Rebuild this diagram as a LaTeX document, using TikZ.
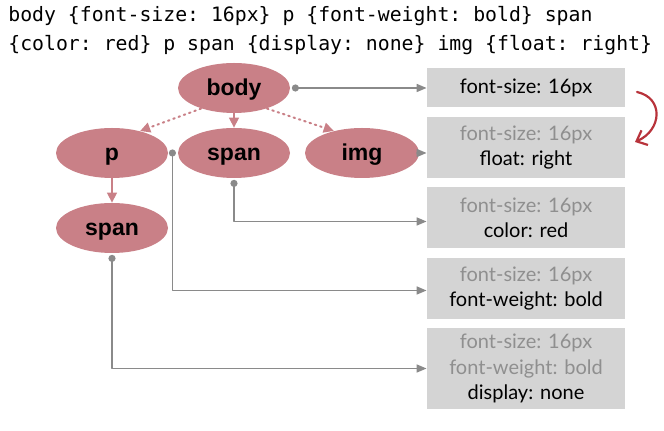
\documentclass[tikz,border=0pt]{standalone}
\usepackage{fontspec}
\setmainfont{Lato}
\setmonofont{DejaVu Sans Mono}
\newfontfamily\tagfont{Liberation Sans}
\usetikzlibrary{arrows.meta,shapes.geometric}
\definecolor{tagpink}{HTML}{C98087}
\definecolor{boxgray}{HTML}{D4D4D4}
\definecolor{linegray}{HTML}{8A8A8A}
\definecolor{oldtext}{HTML}{8F8F8F}
\definecolor{curvered}{HTML}{B8333B}
\tikzset{
  tag/.style={ellipse,fill=tagpink,minimum width=56pt,minimum height=25pt,inner sep=0pt,
    text height=7.5pt,text depth=0pt,
    font=\tagfont\fontsize{11.5}{13}\selectfont\bfseries},
  rulebox/.style={fill=boxgray,minimum width=99pt,inner sep=0pt,align=center,
    font=\fontsize{10}{12.3}\selectfont},
  link/.style={linegray,line width=0.8pt,-{Triangle[length=5pt,width=4pt]}},
  kid/.style={tagpink,line width=0.8pt,-{Triangle[length=5pt,width=5pt]}},
  dot/.style={fill=linegray}
}
\newcommand{\old}[1]{\textcolor{oldtext}{#1}}
\begin{document}
\begin{tikzpicture}[x=0.5pt,y=-0.5pt,line cap=round,line join=round]
  \useasboundingbox (0,0) rectangle (664,431);
  % css source
  \node[anchor=west,inner sep=0pt,font=\ttfamily\fontsize{9.9}{12}\selectfont] (codeA) at (8,16)
    {body \{font-size: 16px\} p \{font-weight: bold\} span};
  \node[anchor=west,inner sep=0pt,font=\ttfamily\fontsize{9.9}{12}\selectfont] (codeB) at (8,45)
    {\{color: red\} p span \{display: none\} img \{float: right\}};
  % dom tree
  \node[tag] (body) at (234,88) {body};
  \node[tag] (p) at (112,153) {p};
  \node[tag] (spanA) at (234,153) {span};
  \node[tag,minimum width=57pt] (img) at (362,153) {img};
  \node[tag] (spanB) at (112,228) {span};
  \draw[kid,dotted,line width=1pt] (body.212) -- (p.38);
  \draw[kid] (body.south) -- (spanA.north);
  \draw[kid,dotted,line width=1pt] (body.328) -- (img.142);
  \draw[kid] (p.south) -- (spanB.north);
  % computed styles
  \node[rulebox,minimum height=19.5pt] (b1) at (526,87.5) {font-size: 16px};
  \node[rulebox,minimum height=30.5pt] (b2) at (526,147.5) {\old{font-size: 16px}\\float: right};
  \node[rulebox,minimum height=30.5pt] (b3) at (526,217.5) {\old{font-size: 16px}\\color: red};
  \node[rulebox,minimum height=30.5pt] (b4) at (526,288.5) {\old{font-size: 16px}\\font-weight: bold};
  \node[rulebox,minimum height=40.5pt,font=\fontsize{10}{12.8}\selectfont] (b5) at (526,368.5)
    {\old{font-size: 16px}\\\old{font-weight: bold}\\display: none};
  \coordinate (bodyDot) at ([xshift=2.5pt]body.east);
  \coordinate (pDot) at ([xshift=2pt]p.east);
  \coordinate (spanADot) at ([yshift=-2.5pt]spanA.south);
  \coordinate (spanBDot) at ([yshift=-2.5pt]spanB.south);
  \foreach \d in {bodyDot,pDot,spanADot,spanBDot}
    \fill[dot] (\d) circle (1.8pt);
  \draw[link] (bodyDot) -- (bodyDot -| b1.west);
  \draw[link] (img.east) -- (img.east -| b2.west);
  \draw[link] (spanADot) |- ([yshift=-2pt]b3.west);
  \draw[link] (pDot) |- ([yshift=-1pt]b4.west);
  \draw[link] (spanBDot) |- (b5.west);
  % cascade hint
  \coordinate (curveA) at (637,92);
  \coordinate (curveB) at (635,142);
  \draw[curvered,line width=1.1pt,-{Straight Barb[length=4.5pt,width=8pt]}]
    (curveA) .. controls (664,98) and (662,130) .. (curveB);
\end{tikzpicture}
\end{document}
